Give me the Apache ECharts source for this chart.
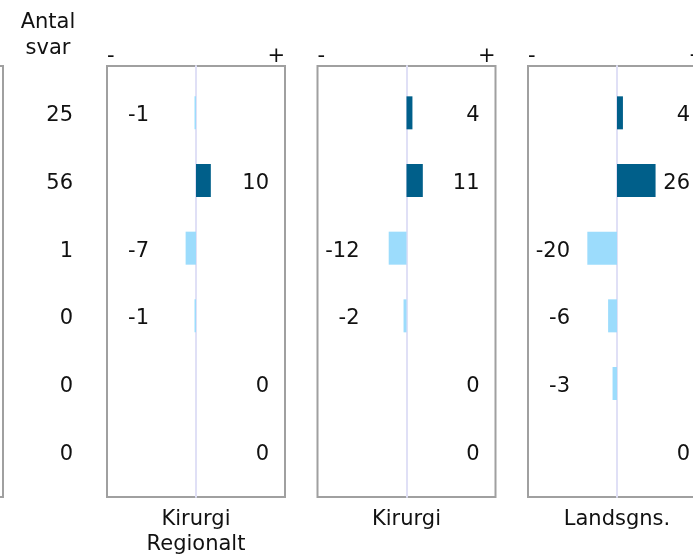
<!DOCTYPE html>
<html>
<head>
<meta charset="utf-8">
<script src="https://cdn.jsdelivr.net/npm/echarts@6/dist/echarts.min.js"></script>
<style>
  * { margin: 0; padding: 0; }
  #chart { width: 693px; height: 556px; }
</style>
</head>
<body>
<div id="chart"></div>
<script>
  // data
  var rows = ['r1', 'r2', 'r3', 'r4', 'r5', 'r6'];
  var antalSvar = [25, 56, 1, 0, 0, 0];
  var panelNames = ['Kirurgi\nRegionalt', 'Kirurgi', 'Landsgns.'];
  var regionalt = [-1, 10, -7, -1, 0, 0];
  var kirurgi = [4, 11, -12, -2, 0, 0];
  var landsgns = [4, 26, -20, -6, -3, 0];
  var panelValues = [regionalt, kirurgi, landsgns];

  // layout
  var panelLefts = [107, 317.5, 528];
  var panelW = 178;
  var frameTop = 66, frameH = 431;
  var dataTop = 79, dataH = 406;
  var labelShift = 3;
  var xMax = 60;
  var darkBlue = '#005f8a', lightBlue = '#9cdcfc';
  var borderColor = '#a0a0a0';
  var font = 'DejaVu Sans', fs = 21, txt = '#111';

  var grids = [], xAxes = [], yAxes = [], series = [];

  function labelAxis(gi, offset, margin, fmt) {
    return {gridIndex: gi, type: 'category', data: rows, inverse: true, position: 'left', offset: offset,
      axisLine: {show: false}, axisTick: {show: false}, splitLine: {show: false},
      axisLabel: {margin: margin, fontFamily: font, fontSize: fs, color: txt, formatter: fmt}};
  }

  // partial panel at the far left (only its right edge shows)
  grids.push({left: -175, width: panelW, top: frameTop, height: frameH, show: true,
    outerBoundsMode: 'none', borderColor: borderColor, borderWidth: 2});
  xAxes.push({gridIndex: 0, type: 'value', show: false});
  yAxes.push({gridIndex: 0, type: 'value', show: false});

  panelLefts.forEach(function (left, p) {
    var f = grids.length, d = f + 1, l = f + 2;
    var vals = panelValues[p];
    // frame grid: border, -/+ marks, center line
    grids.push({left: left, top: frameTop, width: panelW, height: frameH, show: true,
      outerBoundsMode: 'none', borderColor: borderColor, borderWidth: 2});
    xAxes.push({gridIndex: f, type: 'value', min: -xMax, max: xMax, interval: xMax,
      position: 'top', axisLine: {show: false}, axisTick: {show: false}, splitLine: {show: false},
      axisLabel: {margin: -1, fontFamily: font, fontSize: fs, color: txt,
        alignMinLabel: 'left', alignMaxLabel: 'right',
        formatter: function (v) { return v < 0 ? '-' : (v > 0 ? '+' : ''); }}});
    yAxes.push({gridIndex: f, type: 'value', min: 0, max: 1,
      axisLine: {show: true, onZero: true, lineStyle: {color: '#e0e0f6', width: 2}},
      axisTick: {show: false}, axisLabel: {show: false}, splitLine: {show: false}});

    // data grid (bars + panel name)
    grids.push({left: left, top: dataTop, width: panelW, height: dataH, outerBoundsMode: 'none'});
    var xi = xAxes.length;
    xAxes.push({gridIndex: d, type: 'value', min: -xMax, max: xMax,
      axisLine: {show: false}, axisTick: {show: false}, axisLabel: {show: false}, splitLine: {show: false},
      name: panelNames[p], nameLocation: 'middle', nameGap: 22,
      nameTextStyle: {fontFamily: font, fontSize: fs, color: txt, lineHeight: 25, verticalAlign: 'top'}});
    var yi = yAxes.length;
    yAxes.push({gridIndex: d, type: 'category', data: rows, inverse: true, show: false});

    // label grid: value labels, negatives left of center, others right of center
    grids.push({left: left, top: dataTop + labelShift, width: panelW, height: dataH, outerBoundsMode: 'none'});
    xAxes.push({gridIndex: l, type: 'value', min: -xMax, max: xMax, show: false});
    yAxes.push(labelAxis(l, -42, 0, function (v, i) { return vals[i] < 0 ? String(vals[i]) : ''; }));
    yAxes.push(labelAxis(l, -162, 0, function (v, i) { return vals[i] >= 0 ? String(vals[i]) : ''; }));
    if (p === 0) {
      // Antal svar column
      yAxes.push(labelAxis(l, 0, 34, function (v, i) { return String(antalSvar[i]); }));
    }

    series.push({type: 'bar', xAxisIndex: xi, yAxisIndex: yi, barWidth: 33, silent: true,
      data: vals,
      itemStyle: {color: function (params) { return params.value < 0 ? lightBlue : darkBlue; }}});
  });

  var myChart = echarts.init(document.getElementById('chart'));
  myChart.setOption({
    backgroundColor: '#fff',
    animation: false,
    title: {text: 'Antal\nsvar', left: 43, top: 5, textAlign: 'center',
      textStyle: {fontFamily: font, fontSize: fs, fontWeight: 'normal', color: txt, lineHeight: 26}},
    grid: grids,
    xAxis: xAxes,
    yAxis: yAxes,
    series: series
  });
</script>
</body>
</html>
